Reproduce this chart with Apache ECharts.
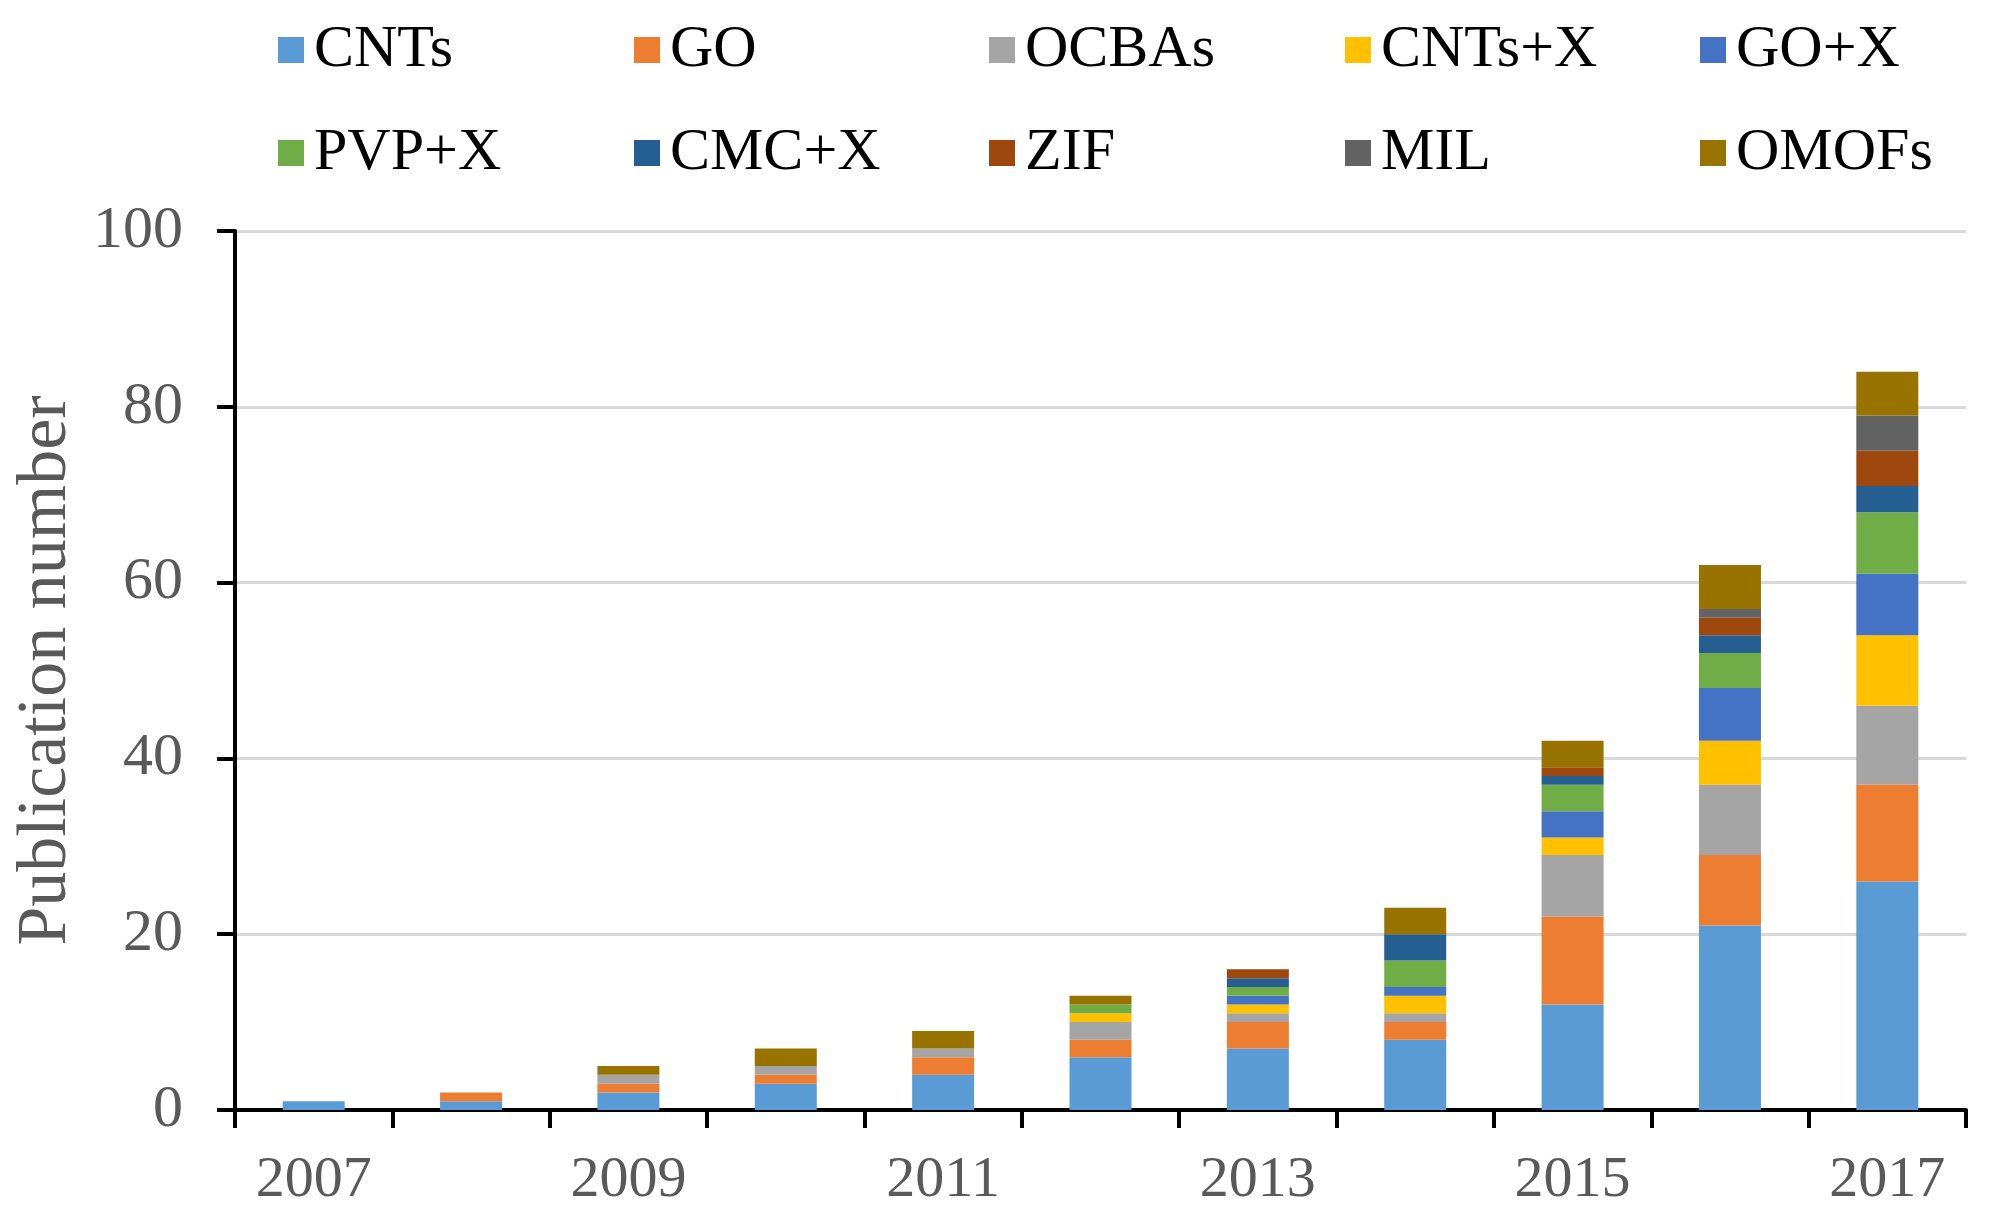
<!DOCTYPE html>
<html>
<head>
<meta charset="utf-8">
<script src="https://cdn.jsdelivr.net/npm/echarts@6/dist/echarts.min.js"></script>
<style>
html,body{margin:0;padding:0;background:#fff;}
#c{width:1991px;height:1228px;}
</style>
</head>
<body>
<div id="c"></div>
<script>
const years = ['2007','2008','2009','2010','2011','2012','2013','2014','2015','2016','2017'];
const seriesNames = ['CNTs','GO','OCBAs','CNTs+X','GO+X','PVP+X','CMC+X','ZIF','MIL','OMOFs'];
const colors = ['#5B9BD5','#ED7D31','#A5A5A5','#FFC000','#4472C4','#70AD47','#255E91','#9E480E','#636363','#997300'];
const CNTs   = [1,1,2,3,4,6,7,8,12,21,26];
const GO     = [0,1,1,1,2,2,3,2,10,8,11];
const OCBAs  = [0,0,1,1,1,2,1,1,7,8,9];
const CNTsX  = [0,0,0,0,0,1,1,2,2,5,8];
const GOX    = [0,0,0,0,0,0,1,1,3,6,7];
const PVPX   = [0,0,0,0,0,1,1,3,3,4,7];
const CMCX   = [0,0,0,0,0,0,1,3,1,2,3];
const ZIF    = [0,0,0,0,0,0,1,0,1,2,4];
const MIL    = [0,0,0,0,0,0,0,0,0,1,4];
const OMOFs  = [0,0,1,2,2,1,0,3,3,5,5];
const yTicks = [0,20,40,60,80,100];

const values = [CNTs,GO,OCBAs,CNTsX,GOX,PVPX,CMCX,ZIF,MIL,OMOFs];
const FONT = "'Liberation Serif','Times New Roman',serif";

const legendCols = [273, 629, 984, 1340, 1695];
const legends = legendCols.map((x, i) => ({
  orient: 'vertical',
  left: x,
  top: 14,
  itemWidth: 26,
  itemHeight: 26,
  itemGap: 41,
  icon: 'rect',
  data: [seriesNames[i], seriesNames[i + 5]],
  textStyle: {fontFamily: FONT, fontSize: 60, color: '#000', lineHeight: 62, padding: [0,0,0,5]},
  selectedMode: false
}));

const chart = echarts.init(document.getElementById('c'));
chart.setOption({
  animation: false,
  backgroundColor: '#fff',
  color: colors,
  legend: legends,
  grid: {left: 235, right: 25, top: 231, bottom: 118, containLabel: false},
  xAxis: {
    type: 'category',
    data: years,
    boundaryGap: true,
    axisLine: {show: true, lineStyle: {color: '#000', width: 4}},
    axisTick: {show: true, interval: 0, length: 18, lineStyle: {color: '#000', width: 4}},
    axisLabel: {interval: 1, margin: 42, fontFamily: FONT, fontSize: 58, color: '#595959'}
  },
  yAxis: {
    type: 'value',
    min: 0, max: 100, interval: 20,
    name: 'Publication number',
    nameLocation: 'middle',
    nameGap: 128,
    nameTextStyle: {fontFamily: FONT, fontSize: 70, color: '#595959'},
    axisLine: {show: true, lineStyle: {color: '#000', width: 4}},
    axisTick: {show: true, length: 18, lineStyle: {color: '#000', width: 4}},
    axisLabel: {margin: 52, fontFamily: FONT, fontSize: 60, color: '#595959',
      formatter: v => yTicks.includes(v) ? String(v) : ''},
    splitLine: {show: true, lineStyle: {color: '#d9d9d9', width: 3}}
  },
  series: seriesNames.map((n, i) => ({
    name: n,
    type: 'bar',
    stack: 'total',
    barWidth: 62,
    data: values[i],
    itemStyle: {color: colors[i]}
  }))
});
</script>
</body>
</html>
